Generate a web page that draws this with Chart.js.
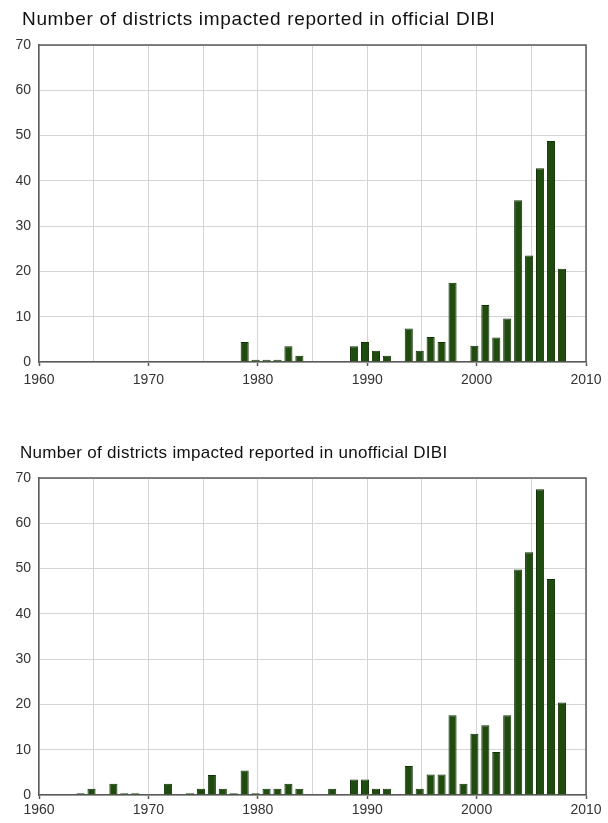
<!DOCTYPE html>
<html>
<head>
<meta charset="utf-8">
<title>Districts impacted by year</title>
<script src="https://cdn.jsdelivr.net/npm/chart.js@4/dist/chart.umd.min.js"></script>
<style>
  html, body { margin: 0; padding: 0; background: #ffffff; }
  #page { position: relative; width: 608px; height: 823px; }
  canvas { display: block; position: absolute; left: 0; }
  .title {
    position: absolute;
    white-space: nowrap;
    color: #111111;
    font-family: 'Liberation Sans', Arial, Helvetica, sans-serif;
  }
  #title1 { left: 22px; top: 9px; font-size: 19px; line-height: 19px; letter-spacing: 0.66px; }
  #title2 { left: 20px; top: 444px; font-size: 17px; line-height: 17px; letter-spacing: 0.3px; }
  #officialChart { top: 0; }
  #unofficialChart { top: 400px; }
</style>
</head>
<body>
<div id="page">
  <canvas id="officialChart" width="608" height="400"></canvas>
  <canvas id="unofficialChart" width="608" height="423"></canvas>
  <div class="title" id="title1">Number of districts impacted reported in official DIBI</div>
  <div class="title" id="title2">Number of districts impacted reported in unofficial DIBI</div>
</div>
<script>
// Number of districts impacted per year, official DIBI
const officialYears = [1979, 1980, 1981, 1982, 1983, 1984, 1989, 1990, 1991, 1992,
  1994, 1995, 1996, 1997, 1998, 2000, 2001, 2002, 2003, 2004, 2005, 2006, 2007, 2008];
const officialCounts = [4.4, 0.5, 0.5, 0.5, 3.5, 1.4, 3.5, 4.4, 2.5, 1.4,
  7.4, 2.5, 5.5, 4.4, 17.5, 3.6, 12.6, 5.4, 9.6, 35.7, 23.5, 42.8, 48.8, 20.6];

// Number of districts impacted per year, unofficial DIBI
const unofficialYears = [1964, 1965, 1967, 1968, 1969, 1972, 1974, 1975, 1976, 1977,
  1978, 1979, 1980, 1981, 1982, 1983, 1984, 1987, 1989, 1990, 1991, 1992, 1994, 1995,
  1996, 1997, 1998, 1999, 2000, 2001, 2002, 2003, 2004, 2005, 2006, 2007, 2008];
const unofficialCounts = [0.4, 1.4, 2.5, 0.4, 0.4, 2.5, 0.4, 1.4, 4.4, 1.4,
  0.4, 5.4, 0.4, 1.4, 1.4, 2.5, 1.4, 1.4, 3.4, 3.4, 1.4, 1.4, 6.4, 1.4,
  4.5, 4.5, 17.6, 2.5, 13.5, 15.4, 9.5, 17.6, 49.8, 53.6, 67.5, 47.7, 20.4];

// Axis ranges and tick labels
const yearRange = [1960, 2010];
const countRange = [0, 70];
const yearLabels = ['1960', '1970', '1980', '1990', '2000', '2010'];
const countLabels = ['0', '10', '20', '30', '40', '50', '60', '70'];

const FONT = "'Liberation Sans', Arial, Helvetica, sans-serif";
const BAR_FILL = '#1f4b0e';
const BAR_EDGE = '#123106';
const GRID = '#d4d4d4';
const AXIS = '#5a5a5a';
const TEXT = '#333333';
// bars sit slightly left of the year mark, as in the source plots
const BAR_SHIFT = -0.2;

// Dark frame along the top and right of the plot area
const framePlugin = {
  id: 'frame',
  afterDraw(chart) {
    const { ctx, chartArea: a } = chart;
    ctx.save();
    ctx.strokeStyle = AXIS;
    ctx.lineWidth = 1.5;
    ctx.beginPath();
    ctx.moveTo(a.left, a.top);
    ctx.lineTo(a.right, a.top);
    ctx.lineTo(a.right, a.bottom);
    ctx.stroke();
    ctx.restore();
  }
};

function makeChart(canvasId, years, counts, geom) {
  const points = years.map((yr, i) => ({ x: yr + BAR_SHIFT, y: counts[i] }));
  return new Chart(document.getElementById(canvasId), {
    type: 'bar',
    data: {
      datasets: [{
        data: points,
        backgroundColor: BAR_FILL,
        borderColor: BAR_EDGE,
        borderWidth: 1,
        barPercentage: 0.74,
        categoryPercentage: 1.0
      }]
    },
    plugins: [framePlugin],
    options: {
      responsive: false,
      animation: false,
      layout: { padding: { left: 0, right: 22, top: geom.top, bottom: 0 } },
      plugins: {
        legend: { display: false },
        tooltip: { enabled: false },
        title: { display: false }
      },
      scales: {
        x: {
          type: 'linear',
          min: yearRange[0],
          max: yearRange[1],
          offset: false,
          afterFit(scale) { scale.height = geom.xHeight; },
          ticks: {
            stepSize: 5,
            autoSkip: false,
            maxRotation: 0,
            padding: geom.xPad,
            color: TEXT,
            font: { family: FONT, size: 14 },
            callback: (v) => yearLabels.includes(String(v)) ? String(v) : ''
          },
          grid: {
            offset: false,
            color: GRID,
            lineWidth: 1,
            drawTicks: true,
            tickLength: 4,
            tickColor: (c) => (c.tick && c.tick.value % 10 === 0) ? AXIS : 'rgba(0,0,0,0)',
            tickWidth: 1.5
          },
          border: { color: AXIS, width: 1.5 }
        },
        y: {
          min: countRange[0],
          max: countRange[1],
          afterFit(scale) { scale.width = 39; },
          ticks: {
            stepSize: 10,
            padding: 8,
            color: TEXT,
            font: { family: FONT, size: 14 },
            callback: (v) => countLabels.includes(String(v)) ? String(v) : ''
          },
          grid: { offset: false, color: GRID, lineWidth: 1, drawTicks: false },
          border: { color: AXIS, width: 1.5 }
        }
      }
    }
  });
}

makeChart('officialChart', officialYears, officialCounts,
  { top: 45, xHeight: 38, xPad: 6 });

makeChart('unofficialChart', unofficialYears, unofficialCounts,
  { top: 78, xHeight: 28, xPad: 3 });
</script>
</body>
</html>
